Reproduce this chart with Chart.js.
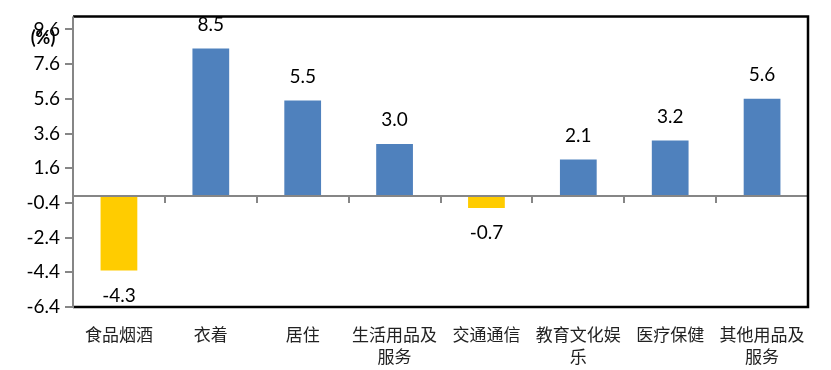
<!DOCTYPE html>
<html><head><meta charset="utf-8">
<script src="https://cdn.jsdelivr.net/npm/chart.js@4.4.1/dist/chart.umd.min.js"></script>
<style>html,body{margin:0;padding:0;background:#fff}#wrap{width:831px;height:370px}</style>
</head><body><div id="wrap"><canvas id="c" width="831" height="370"></canvas></div>
<script>
const categories = [["食品烟酒"],["衣着"],["居住"],["生活用品及","服务"],["交通通信"],["教育文化娱","乐"],["医疗保健"],["其他用品及","服务"]];
const values = [-4.3, 8.5, 5.5, 3.0, -0.7, 2.1, 3.2, 5.6];
const yTicks = [-6.4, -4.4, -2.4, -0.4, 1.6, 3.6, 5.6, 7.6, 9.6];
const unitLabel = "(%)";

const colors = values.map(v => v < 0 ? '#FFCC00' : '#4F81BD');
const tickFont = "Lato, 'Open Sans', sans-serif";

const decor = {
  id: 'decor',
  afterDraw(chart) {
    const ctx = chart.ctx, a = chart.chartArea, x = chart.scales.x, y = chart.scales.y;
    ctx.save();
    const y0 = y.getPixelForValue(0);
    ctx.strokeStyle = '#868686'; ctx.lineWidth = 2;
    ctx.beginPath(); ctx.moveTo(a.left, y0); ctx.lineTo(a.right, y0); ctx.stroke();
    const n = categories.length;
    for (let i = 1; i < n; i++) {
      const bx = Math.round((x.getPixelForTick(i - 1) + x.getPixelForTick(i)) / 2);
      ctx.beginPath(); ctx.moveTo(bx, y0); ctx.lineTo(bx, y0 + 7); ctx.stroke();
    }
    ctx.strokeStyle = '#000'; ctx.lineWidth = 2.5;
    ctx.beginPath();
    ctx.moveTo(a.left, a.top); ctx.lineTo(a.right, a.top); ctx.lineTo(a.right, a.bottom); ctx.lineTo(a.left, a.bottom);
    ctx.stroke();
    ctx.strokeStyle = '#868686'; ctx.lineWidth = 2;
    ctx.beginPath(); ctx.moveTo(a.left, a.top); ctx.lineTo(a.left, a.bottom + 1); ctx.stroke();
    ctx.fillStyle = '#000';
    ctx.font = "19px " + tickFont;
    ctx.textAlign = 'center'; ctx.textBaseline = 'middle';
    chart.getDatasetMeta(0).data.forEach((bar, i) => {
      const v = values[i];
      const ty = v >= 0 ? bar.y - 24 : bar.y + 25;
      ctx.fillText(v.toFixed(1), bar.x, ty);
    });
    ctx.font = "bold 18px " + tickFont;
    ctx.fillText(unitLabel, 43, 38);
    ctx.restore();
  }
};

new Chart(document.getElementById('c'), {
  type: 'bar',
  data: { labels: categories, datasets: [{ data: values, backgroundColor: colors, barPercentage: 0.5, categoryPercentage: 0.8 }] },
  options: {
    responsive: false, animation: false, devicePixelRatio: 1,
    layout: { padding: { top: 15, right: 23, left: 0, bottom: 0 } },
    plugins: { legend: { display: false }, tooltip: { enabled: false } },
    scales: {
      x: {
        grid: { display: false }, border: { display: false },
        ticks: { color: '#222', font: { family: "'Noto Sans CJK SC', sans-serif", size: 17, lineHeight: 1.3 }, padding: 8, maxRotation: 0, autoSkip: false },
        afterFit(s) { s.height = 63; }
      },
      y: {
        min: -6.4, max: 10.35,
        afterBuildTicks(s) { s.ticks = yTicks.map(v => ({ value: v })); },
        grid: { drawOnChartArea: false, color: '#868686', lineWidth: 2, tickLength: 8 },
        border: { display: false },
        ticks: { color: '#000', font: { family: tickFont, size: 19 }, padding: 5, callback: v => v.toFixed(1) },
        afterFit(s) { s.width = 73; }
      }
    }
  },
  plugins: [decor]
});
</script></body></html>
